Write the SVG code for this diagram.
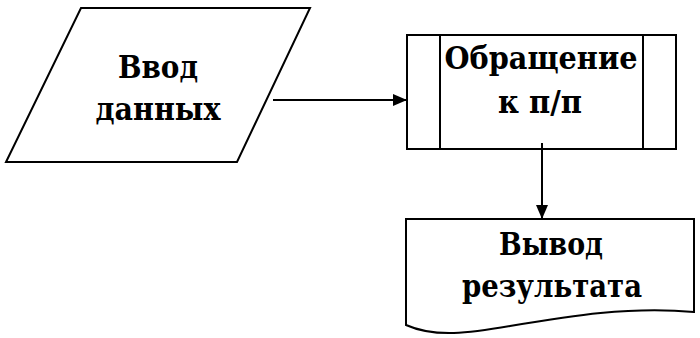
<svg xmlns="http://www.w3.org/2000/svg" width="700" height="338" viewBox="0 0 700 338">
  <style>
    .shape { fill: #ffffff; stroke: #000000; stroke-width: 2; }
    .line { fill: none; stroke: #000000; stroke-width: 2; }
    .label { font-family: 'DejaVu Serif Condensed', 'DejaVu Serif', 'Liberation Serif', serif; font-stretch: condensed; font-weight: 700; font-size: 31px; fill: #000000; text-anchor: middle; }
  </style>
  <defs>
    <marker id="arrow" markerWidth="14" markerHeight="14" refX="13" refY="6" orient="auto" markerUnits="userSpaceOnUse" viewBox="0 0 14 12">
      <path d="M0,0 L14,6 L0,12 Z" fill="#000000"/>
    </marker>
  </defs>
  <rect width="700" height="338" fill="#ffffff"/>

  <!-- input: data entry parallelogram -->
  <g id="input">
    <polygon class="shape" points="81,8 310,8 237,162 6,162"/>
    <text class="label" x="158" y="78" textLength="80" lengthAdjust="spacingAndGlyphs">Ввод</text>
    <text class="label" x="158" y="120" textLength="125" lengthAdjust="spacingAndGlyphs">данных</text>
  </g>

  <!-- predefined process: subroutine call -->
  <g id="subroutine">
    <rect class="shape" x="407" y="35" width="269" height="114"/>
    <line class="line" x1="440" y1="35" x2="440" y2="149"/>
    <line class="line" x1="643" y1="35" x2="643" y2="149"/>
    <text class="label" x="541" y="69" textLength="193" lengthAdjust="spacingAndGlyphs">Обращение</text>
    <text class="label" x="540" y="113" textLength="84" lengthAdjust="spacingAndGlyphs">к п/п</text>
  </g>

  <!-- document: result output -->
  <g id="output">
    <path class="shape" d="M406,219 H694 V312 C630,306 570,316 510,326 C470,333 435,338 406,325 Z"/>
    <text class="label" x="551" y="255" textLength="104" lengthAdjust="spacingAndGlyphs">Вывод</text>
    <text class="label" x="552" y="297" textLength="180" lengthAdjust="spacingAndGlyphs">результата</text>
  </g>

  <g id="connectors">
    <line class="line" x1="273" y1="100" x2="406" y2="100" marker-end="url(#arrow)"/>
    <line class="line" x1="542" y1="143" x2="542" y2="218" marker-end="url(#arrow)"/>
  </g>
</svg>
